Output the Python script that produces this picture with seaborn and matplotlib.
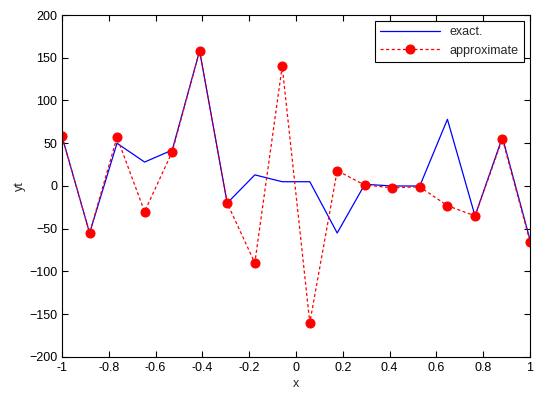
import numpy as np
import pandas as pd
import matplotlib
matplotlib.use("Agg")
import matplotlib.pyplot as plt
import seaborn as sns

# sample points (18 nodes on [-1, 1])
x = [-1.0, -0.882, -0.765, -0.647, -0.529, -0.412, -0.294, -0.176, -0.059,
     0.059, 0.176, 0.294, 0.412, 0.529, 0.647, 0.765, 0.882, 1.0]
y_exact = [58, -55, 50, 28, 42, 158, -20, 13, 5,
           5, -55, 2, 0, 0, 78, -35, 57, -63]
y_approx = [58, -55, 57, -30, 40, 158, -20, -90, 140,
            -160, 18, 1, -2, -1, -23, -35, 55, -65]

df = pd.DataFrame({"x": x, "exact": y_exact, "approx": y_approx})

sns.set_style("ticks")
plt.rcParams["font.family"] = ["Liberation Sans", "DejaVu Sans"]

fig = plt.figure(figsize=(5.41, 3.99), dpi=100)
ax = fig.add_axes([0.1146, 0.1053, 0.8651, 0.8571])

sns.lineplot(data=df, x="x", y="exact", color="blue", linewidth=0.9,
             estimator=None, sort=False, label="exact.", ax=ax)
sns.lineplot(data=df, x="x", y="approx", color="red", linewidth=0.9,
             linestyle="--", marker="o", markersize=6.5, markeredgecolor="red",
             estimator=None, sort=False, label="approximate", ax=ax)
ax.lines[1].set_dashes([2.5, 2])

ax.set_xlim(-1, 1)
ax.set_ylim(-200, 200)
ax.set_xticks(np.arange(-1, 1.01, 0.2))
ax.set_xticklabels(["-1", "-0.8", "-0.6", "-0.4", "-0.2", "0", "0.2", "0.4", "0.6", "0.8", "1"])
ax.set_yticks(np.arange(-200, 201, 50))
ax.set_xlabel("x", fontsize=9, labelpad=3)
ax.set_ylabel("yt", fontsize=9, labelpad=2)
ax.tick_params(direction="in", top=True, right=True, labelsize=9, length=4, width=0.8, colors="black")
for s in ax.spines.values():
    s.set_visible(True)
    s.set_linewidth(0.8)
    s.set_color("black")

leg = ax.legend(loc="upper right", fontsize=9, fancybox=False, framealpha=1,
                edgecolor="black", borderaxespad=0.5, handlelength=4.8)
leg.get_frame().set_linewidth(0.8)

fig.savefig("out.png", dpi=100)
